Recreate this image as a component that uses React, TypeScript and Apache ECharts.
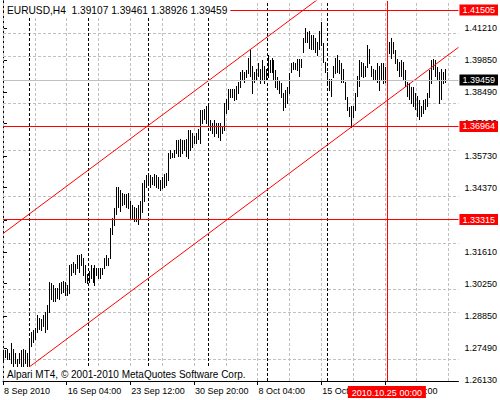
import React, { useEffect, useRef } from "react";
import * as echarts from "echarts";

const symbolTitle = "EURUSD,H4";
const lastOHLC = [1.39107, 1.39461, 1.38926, 1.39459];

const highs = [
  1.2738, 1.2738, 1.2746, 1.2729, 1.2768, 1.2746, 1.2725, 1.2703, 1.2725, 1.2738, 1.2746, 1.2738, 1.2725, 1.2789,
  1.2815, 1.2824, 1.2836, 1.2888, 1.2879, 1.2875, 1.2888, 1.2901, 1.2931,
  1.303, 1.3026, 1.3017, 1.3008, 1.3004, 1.3026, 1.303, 1.3038, 1.303, 1.3017,
  1.3103, 1.3111, 1.3116, 1.3111, 1.3146, 1.3146,
  1.3154, 1.3137, 1.3103, 1.3068, 1.3081, 1.3103, 1.309, 1.3103, 1.3094, 1.309, 1.3094, 1.3094, 1.3137, 1.3146, 1.3137,
  1.3266, 1.3309, 1.3348, 1.3438, 1.3438, 1.3425, 1.3416, 1.3412, 1.3412, 1.3416, 1.3382, 1.3361, 1.3352, 1.3348, 1.3361, 1.3382,
  1.3459, 1.3468, 1.349, 1.3498, 1.349, 1.3481, 1.3498, 1.349, 1.3481, 1.3468, 1.3481, 1.3498, 1.3502,
  1.3588, 1.3597, 1.3588, 1.3597, 1.364, 1.364, 1.3648, 1.364, 1.364, 1.3648, 1.3683, 1.3683, 1.3674, 1.3661, 1.367, 1.3691,
  1.3769, 1.3769, 1.3777, 1.379, 1.3799, 1.3726, 1.3717, 1.3726, 1.3713, 1.3717, 1.3713, 1.3704,
  1.3803, 1.382, 1.3863, 1.3863, 1.3863, 1.3863, 1.3876, 1.3889, 1.3932, 1.3941, 1.3932, 1.3941, 1.3996, 1.4035,
  1.3962, 1.3932, 1.3949, 1.3971, 1.3949, 1.3984, 1.3962, 1.3949, 1.4005, 1.3984, 1.3996, 1.3984, 1.3941, 1.3911, 1.3898, 1.3885,
  1.3846, 1.3855, 1.3868, 1.3928, 1.3971, 1.3975, 1.3971, 1.3992, 1.3992, 1.3992,
  1.4082, 1.4121, 1.4104, 1.4112, 1.4091, 1.4091, 1.4078, 1.4061, 1.4112, 1.41505, 1.4057, 1.3975,
  1.3932, 1.3906, 1.3906, 1.3962, 1.3996, 1.4005, 1.3984, 1.3971, 1.3949, 1.3889, 1.3825, 1.3782, 1.379, 1.379,
  1.3842, 1.3919, 1.3984, 1.3975, 1.3971, 1.3962, 1.4048, 1.4035, 1.3962, 1.3949, 1.3941, 1.3971, 1.3962, 1.3971, 1.3971, 1.3954,
  1.4027, 1.4061, 1.4078, 1.4061, 1.4027, 1.3992, 1.3975, 1.3984, 1.3975, 1.3941, 1.3889, 1.3885, 1.3868, 1.3868, 1.3846, 1.3833,
  1.3812, 1.379, 1.3812, 1.382, 1.3846, 1.3941, 1.3984, 1.3992, 1.3984, 1.3954, 1.3932, 1.3949, 1.3932, 1.39461,
];

const lows = [
  1.2695, 1.2708, 1.2703, 1.2703, 1.2686, 1.2665, 1.2682, 1.2665, 1.2682, 1.266, 1.2665, 1.2682, 1.2665, 1.2665,
  1.2759, 1.2772, 1.2789, 1.2815, 1.2832, 1.2824, 1.2845, 1.2815, 1.2832,
  1.2901, 1.2961, 1.2952, 1.2952, 1.2965, 1.2961, 1.2983, 1.2987, 1.2974, 1.2974,
  1.2983, 1.306, 1.3073, 1.3068, 1.309, 1.3073,
  1.3103, 1.306, 1.303, 1.3026, 1.303, 1.3047, 1.303, 1.3017, 1.306, 1.3047, 1.3051, 1.3068, 1.309, 1.3103, 1.3103,
  1.3137, 1.324, 1.3275, 1.3326, 1.3352, 1.3339, 1.3361, 1.3369, 1.3352, 1.3348, 1.3309, 1.3305, 1.3296, 1.3296, 1.3283, 1.3305,
  1.3331, 1.3382, 1.3438, 1.3447, 1.3438, 1.3455, 1.3447, 1.3438, 1.3434, 1.3425, 1.3434, 1.3438, 1.3447,
  1.3468, 1.3563, 1.3567, 1.3567, 1.3584, 1.3575, 1.3575, 1.3588, 1.3597, 1.3575, 1.3563, 1.3597, 1.361, 1.3627, 1.3627, 1.3648,
  1.3631, 1.3713, 1.3734, 1.3717, 1.3713, 1.3683, 1.367, 1.3661, 1.3674, 1.3653, 1.364, 1.3674,
  1.3683, 1.376, 1.3777, 1.3825, 1.3825, 1.3812, 1.382, 1.3846, 1.3868, 1.3898, 1.3889, 1.3911, 1.3928, 1.3919,
  1.3846, 1.3889, 1.3898, 1.3919, 1.3885, 1.3906, 1.3885, 1.3898, 1.3911, 1.3932, 1.3932, 1.3906, 1.3868, 1.3863, 1.3846, 1.3825,
  1.3769, 1.3782, 1.3803, 1.3846, 1.3932, 1.3949, 1.3949, 1.3941, 1.3919, 1.3954,
  1.4018, 1.4061, 1.4061, 1.4039, 1.4035, 1.4035, 1.4018, 1.4005, 1.4035, 1.4048, 1.3975, 1.3932,
  1.3889, 1.3855, 1.3833, 1.3911, 1.3928, 1.3932, 1.3928, 1.3889, 1.3889, 1.382, 1.3769, 1.3747, 1.36964, 1.3739,
  1.3769, 1.3833, 1.3876, 1.3919, 1.3911, 1.3919, 1.3954, 1.3971, 1.3919, 1.3898, 1.3898, 1.3889, 1.3855, 1.3898, 1.3885, 1.3889,
  1.3971, 1.4014, 1.3996, 1.4014, 1.3971, 1.3941, 1.3919, 1.3919, 1.3906, 1.3876, 1.3833, 1.382, 1.3803, 1.379, 1.3777, 1.3747,
  1.3734, 1.3747, 1.376, 1.3777, 1.379, 1.3825, 1.3885, 1.3949, 1.3919, 1.3898, 1.3803, 1.382, 1.3885, 1.38926,
];

const yTicks = [1.2613, 1.2749, 1.2885, 1.3025, 1.3161, 1.3297, 1.3437, 1.3573, 1.3713, 1.3849, 1.3985, 1.4121];
const yMin = 1.26066;
const yMax = 1.42391;

const xMin = 0;
const xMax = 229;
const xTickIdx = [0, 32, 64, 96, 128, 160, 192];
const xTickLabels = ["8 Sep 2010", "16 Sep 04:00", "23 Sep 12:00", "30 Sep 20:00", "8 Oct 04:00", "15 Oct 12:00", "22 Oct 20:00"];
const xGridIdx = [0, 16, 32, 48, 64, 80, 96, 112, 128, 144, 160, 176, 192, 208, 224];
const weekSeparators = [13, 43, 73, 103, 133, 163];
const redVerticalIdx = 193;
const redVerticalLabel = "2010.10.25 00:00";
const redLevels = [1.41505, 1.36964, 1.33315];
const bidLevel = 1.39459;
const channelUpper = [[0, 1.324], [229, 1.4696]];
const channelLower = [[0, 1.2583], [229, 1.404]];
const watermark = "Alpari MT4, \u00a9 2001-2010 MetaQuotes Software Corp.";

const FONT = "'Liberation Sans', Arial, sans-serif";
const FS = 9;
const RED = "#ff0000";
const GRID = "#c0c0c0";

export default function App() {
  const ref = useRef<HTMLDivElement>(null);
  useEffect(() => {
    if (!ref.current) return;
    const chart = echarts.init(ref.current, undefined, { renderer: "svg" });
    const barData = highs.map((h, i) => [i, h, lows[i]]);
    const header = `${symbolTitle}\u00a0\u00a0${lastOHLC.map((v) => v.toFixed(5)).join(" ")}`;

    const levelLabel = (bg: string, text: string) => ({
      show: true,
      position: "end",
      formatter: text,
      color: "#fff",
      backgroundColor: bg,
      padding: [1, 3, 0, 3],
      lineHeight: 10,
      distance: 1,
      fontSize: FS,
      fontFamily: FONT,
    });

    const option: any = {
      animation: false,
      backgroundColor: "#fff",
      textStyle: { fontFamily: FONT },
      grid: { left: 3, right: 39, top: 1, bottom: 19 },
      title: {
        text: header,
        left: 4,
        top: 2,
        padding: [2, 3],
        backgroundColor: "#fff",
        textStyle: { fontSize: 10.2, fontWeight: "normal", color: "#000", fontFamily: FONT, lineHeight: 12 },
      },
      xAxis: {
        type: "value",
        min: xMin,
        max: xMax,
        position: "bottom",
        axisLine: { show: true, onZero: false, lineStyle: { color: "#000", width: 1 } },
        axisTick: { show: true, customValues: xTickIdx, length: 4, lineStyle: { color: "#000" } },
        axisLabel: {
          customValues: xTickIdx,
          formatter: (v: number) => {
            const k = xTickIdx.indexOf(Math.round(v));
            return k >= 0 ? xTickLabels[k] : "";
          },
          align: "left",
          margin: 5,
          color: "#000",
          fontSize: FS,
          fontFamily: FONT,
          padding: [0, 0, 0, 1],
        },
        splitLine: { show: false },
      },
      yAxis: [
        {
          type: "value",
          position: "right",
          min: yMin,
          max: yMax,
          axisLine: { show: true, lineStyle: { color: "#000", width: 1 } },
          axisTick: { show: true, customValues: yTicks, length: 4, lineStyle: { color: "#000" } },
          axisLabel: {
            customValues: yTicks,
            formatter: (v: number) => v.toFixed(5),
            margin: 6,
            color: "#000",
            fontSize: FS,
            fontFamily: FONT,
          },
          splitLine: { show: false },
        },
        {
          type: "value",
          position: "left",
          min: yMin,
          max: yMax,
          axisLine: { show: true, lineStyle: { color: "#000", width: 1 } },
          axisTick: { show: false },
          axisLabel: { show: false },
          splitLine: { show: false },
        },
      ],
      series: [
        {
          type: "line",
          name: "grid",
          data: [[xMin, yMin]],
          showSymbol: false,
          symbol: "none",
          lineStyle: { opacity: 0 },
          silent: true,
          z: 1,
          markLine: {
            silent: true,
            symbol: "none",
            z: 1,
            emphasis: { disabled: true },
            label: { show: false },
            lineStyle: { color: GRID, type: [3, 2], width: 1 },
            data: [
              ...yTicks.map((v) => ({ yAxis: v })),
              ...xGridIdx.map((v) => ({ xAxis: v })),
              ...weekSeparators.map((v) => ({ xAxis: v, lineStyle: { color: "#000", type: [3, 2], width: 1 } })),
            ],
          },
        },
        {
          type: "custom",
          name: "bars",
          z: 2,
          silent: true,
          encode: { x: 0, y: [1, 2] },
          data: barData,
          renderItem: (params: any, api: any) => {
            const i = api.value(0);
            const hi = api.coord([i, api.value(1)]);
            const lo = api.coord([i, api.value(2)]);
            const x = Math.round(hi[0]) + 0.5;
            return {
              type: "line",
              shape: { x1: x, y1: Math.round(hi[1]), x2: x, y2: Math.round(lo[1]) + 1 },
              style: { stroke: "#000", lineWidth: 1 },
            };
          },
        },
        {
          type: "line",
          name: "channelUpper",
          data: channelUpper,
          symbol: "none",
          clip: true,
          silent: true,
          z: 3,
          lineStyle: { color: RED, width: 1 },
        },
        {
          type: "line",
          name: "channelLower",
          data: channelLower,
          symbol: "none",
          clip: true,
          silent: true,
          z: 3,
          lineStyle: { color: RED, width: 1 },
          markLine: {
            silent: true,
            symbol: "none",
            z: 4,
            emphasis: { disabled: true },
            data: [
              {
                yAxis: bidLevel,
                lineStyle: { color: GRID, type: "solid", width: 1 },
                label: levelLabel("#000", bidLevel.toFixed(5)),
              },
              ...redLevels.map((v) => ({
                yAxis: v,
                lineStyle: { color: RED, type: "solid", width: 1 },
                label: levelLabel(RED, v.toFixed(5)),
              })),
              {
                xAxis: redVerticalIdx,
                lineStyle: { color: RED, type: "solid", width: 1 },
                label: {
                  show: true,
                  position: "start",
                  formatter: redVerticalLabel,
                  color: "#fff",
                  backgroundColor: RED,
                  padding: [1, 4, 0, 4],
                  lineHeight: 11,
                  distance: 5,
                  fontSize: FS,
                  fontFamily: FONT,
                },
              },
            ],
          },
        },
      ],
      graphic: [
        {
          type: "text",
          left: 4,
          top: 367,
          z: 100,
          silent: true,
          style: {
            text: watermark,
            fontSize: 10,
            fontFamily: FONT,
            fill: "#000",
            backgroundColor: "#fff",
            padding: [1, 3],
            lineHeight: 12,
          },
        },
      ],
    };
    chart.setOption(option);
    return () => chart.dispose();
  }, []);
  return (
    <div
      ref={ref}
      style={{ position: "fixed", left: 0, top: 0, width: 500, height: 400, background: "#fff" }}
    />
  );
}
